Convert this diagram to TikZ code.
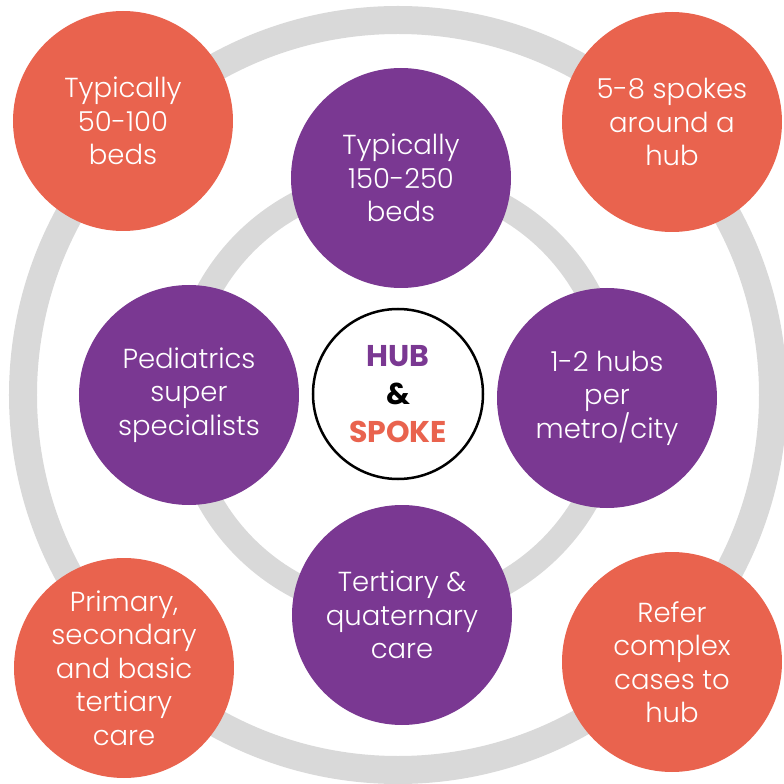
\documentclass[tikz,border=0pt]{standalone}
\usepackage{fontspec}
\setmainfont{Poppins}
\newfontfamily\lightfont{Poppins Light}
\usepackage{xcolor}
\definecolor{hubpurple}{HTML}{7A3892}
\definecolor{spokeorange}{HTML}{E9634E}
\definecolor{ringgray}{HTML}{D9D9D9}
\usepackage{tikz}
\usetikzlibrary{positioning}

\tikzset{
	hubdisc/.style={circle, fill=hubpurple, text=white, minimum size=220pt, inner sep=0pt, align=center,
		font=\lightfont\fontsize{27.5}{33.5}\selectfont},
	spokedisc/.style={circle, fill=spokeorange, text=white, minimum size=220pt, inner sep=0pt, align=center,
		font=\lightfont\fontsize{27.5}{33.5}\selectfont},
}

\begin{document}
\begin{tikzpicture}[x=1pt, y=1pt]
			\pgfmathsetmacro{\outerr}{375}
			\pgfmathsetmacro{\innerr}{216}
			\useasboundingbox (-398,-389) rectangle (386,395);
			\clip (-398,-389) rectangle (386,395);
			% Rings
			\draw[ringgray, line width=28pt] (0,0) circle (\outerr);
			\draw[ringgray, line width=25pt] (0,0) circle (\innerr);
			
			% Spokes
			\node[spokedisc] (beds) at (-275,274) {Typically\\50-100\\beds};
			\node[spokedisc] (count) at (274,273) {5-8 spokes\\around a\\hub};
			\node[spokedisc] (care) at (-274,-273) {Primary,\\secondary\\and basic\\tertiary\\care};
			\node[spokedisc] (refer) at (274,-267) {Refer\\complex\\cases to\\hub};
			
			% Hub facts
			\node[hubdisc] (hubbeds) at (3,217) {Typically\\150-250\\beds};
			\node[hubdisc] (hubspec) at (-209,0) {Pediatrics\\super\\specialists};
			\node[hubdisc] (hubcity) at (209,-3) {1-2 hubs\\per\\metro/city};
			\node[hubdisc] (hubcare) at (4,-220) {Tertiary \&\\quaternary\\care};
			
			% Centre
			\node[circle, draw=black, line width=2.5pt, fill=white, minimum size=170pt, inner sep=0pt, align=center,
				font=\fontsize{30}{38}\selectfont\bfseries] (centre) at (0,1)
				{\textcolor{hubpurple}{HUB}\\\textcolor{black}{\&}\\\textcolor{spokeorange}{SPOKE}};
			
		\end{tikzpicture}
\end{document}
